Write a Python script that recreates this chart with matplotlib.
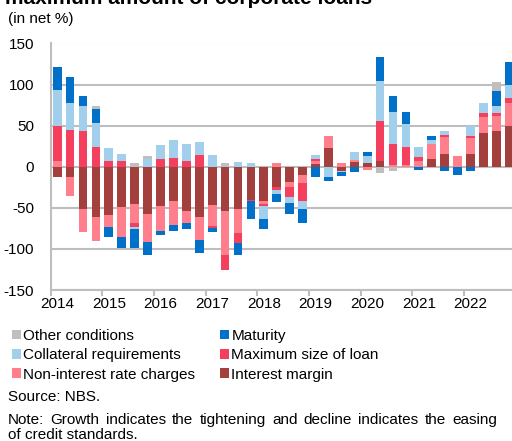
import numpy as np
import matplotlib
matplotlib.use("Agg")
import matplotlib.pyplot as plt
from matplotlib.patches import Patch

plt.rcParams['font.family'] = ['Liberation Sans', 'DejaVu Sans']

quarters = [f"{y}Q{q}" for y in range(2014, 2023) for q in range(1, 5)]
years = [str(y) for y in range(2014, 2023)]

interest_margin = [-12, -13, -51, -61, -59, -49, -45, -57, -48, -42, -54, -61,
                   -47, -54, -52, -40, -42, -25, -18, -10, 3, 23, -5, 6,
                   4, 7, 0, 0, 0, 9, 16, 0, 16, 41, 43, 50]
non_interest = [7, -23, -29, -29, -14, -36, -23, -34, -30, -29, -15, -28,
                -25, -53, -29, 0, -3, 4, -7, -10, 4, 14, 4, 2,
                -4, 0, 2, 2, 7, 19, 20, 13, 19, 20, 19, 27]
max_size = [43, 45, 43, 24, 7, 7, -5, 0, 9, 11, 7, 14,
            -2, -19, -12, -2, -3, -3, -12, -22, 2, 0, 0, 0,
            0, 49, 26, 22, 5, 0, 3, 0, 2, 5, 3, 7]
collateral = [44, 32, 31, 29, 16, 9, -3, 9, 17, 22, 21, 16,
              14, 0, 6, 4, -16, -5, -7, -10, 5, -13, -1, 10,
              9, 48, 39, 28, 12, 5, 5, 0, 12, 12, 9, 15]
maturity = [27, 32, 12, 17, -12, -14, -23, -16, -5, -7, -7, -16,
            -6, 0, -14, -22, -12, -10, -14, -17, -12, -4, -5, -6,
            5, 30, 19, 15, -4, 5, -5, -10, -5, 0, 18, 28]
other = [0, 0, 0, 4, 0, 0, 5, 4, 0, 0, 0, 0,
         0, 4, 0, 0, 0, 0, 0, 0, 0, 0, 0, 0,
         0, -8, -5, 0, 0, 0, 0, 0, 0, 0, 11, 0]

series = [
    ("Interest margin", interest_margin, "#A3403E"),
    ("Non-interest rate charges", non_interest, "#FF808C"),
    ("Maximum size of loan", max_size, "#F43F5E"),
    ("Collateral requirements", collateral, "#A2CFEC"),
    ("Maturity", maturity, "#0070C8"),
    ("Other conditions", other, "#BFBFBF"),
]

W, H = 512, 441
fig = plt.figure(figsize=(W / 100, H / 100), dpi=100)
ax = fig.add_axes([50.7 / W, 1 - 290 / H, 465 / W, (290 - 43.5) / H])

x = np.arange(len(quarters))
pos = np.zeros(len(x))
neg = np.zeros(len(x))
for name, vals, col in series:
    v = np.array(vals, dtype=float)
    p = np.where(v > 0, v, 0)
    n = np.where(v < 0, v, 0)
    ax.bar(x, p, bottom=pos, width=0.68, color=col, zorder=3, linewidth=0)
    ax.bar(x, n, bottom=neg, width=0.68, color=col, zorder=3, linewidth=0)
    pos += p
    neg += n

ax.set_xlim(-0.5, len(x) - 0.5)
ax.set_ylim(-150, 150)
ax.set_yticks([-150, -100, -50, 0, 50, 100, 150])
ax.set_yticklabels(["-150", "-100", "-50", "0", "50", "100", "150"])
ax.yaxis.grid(True, color="#BEBEBE", linewidth=1.5, zorder=0)
ax.set_axisbelow(True)

ax.set_xticks(np.arange(-0.5, len(x), 4))
ax.set_xticklabels([])
ax.set_xticks(np.arange(0, len(x), 4), minor=True)
ax.set_xticklabels(years, minor=True)
ax.tick_params(axis='x', which='major', length=4, width=1.5, color="#BEBEBE", direction='out')
ax.tick_params(axis='x', which='minor', length=0, pad=5, labelsize=11)
ax.tick_params(axis='y', length=0, pad=12, labelsize=11)

for s in ['top', 'right']:
    ax.spines[s].set_visible(False)
for s in ['left', 'bottom']:
    ax.spines[s].set_color("#BEBEBE")
    ax.spines[s].set_linewidth(1.5)

fig.text(5 / W, 1 - 3.5 / H, "maximum amount of corporate loans", fontsize=15,
         fontweight='bold', ha='left', va='baseline')
fig.text(8 / W, 1 - 23 / H, "(in net %)", fontsize=11, ha='left', va='baseline')

handles = {name: Patch(facecolor=col, edgecolor='none') for name, _, col in series}
order = ["Other conditions", "Collateral requirements", "Non-interest rate charges",
         "Maturity", "Maximum size of loan", "Interest margin"]
fig.legend([handles[n] for n in order], order, ncol=2, loc='upper left',
           bbox_to_anchor=(12 / W, 1 - 329 / H), frameon=False, fontsize=11,
           handlelength=0.6, handleheight=0.6, handletextpad=0.15,
           columnspacing=1.6, labelspacing=0.35, borderpad=0, borderaxespad=0)

fig.text(8 / W, 1 - 401 / H, "Source: NBS.", fontsize=11, ha='left', va='baseline')

# justified note line
note_words = "Note: Growth indicates the tightening and decline indicates the easing".split()
renderer = fig.canvas.get_renderer()
texts = [fig.text(0, 1 - 424 / H, w, fontsize=11, ha='left', va='baseline') for w in note_words]
widths = [t.get_window_extent(renderer).width for t in texts]
x0, x1 = 8.0, 497.0
gap = (x1 - x0 - sum(widths)) / (len(texts) - 1)
cx = x0
for t, w in zip(texts, widths):
    t.set_x(cx / W)
    cx += w + gap
fig.text(8 / W, 1 - 439 / H, "of credit standards.", fontsize=11, ha='left', va='baseline')

fig.savefig("out.png", dpi=100)
